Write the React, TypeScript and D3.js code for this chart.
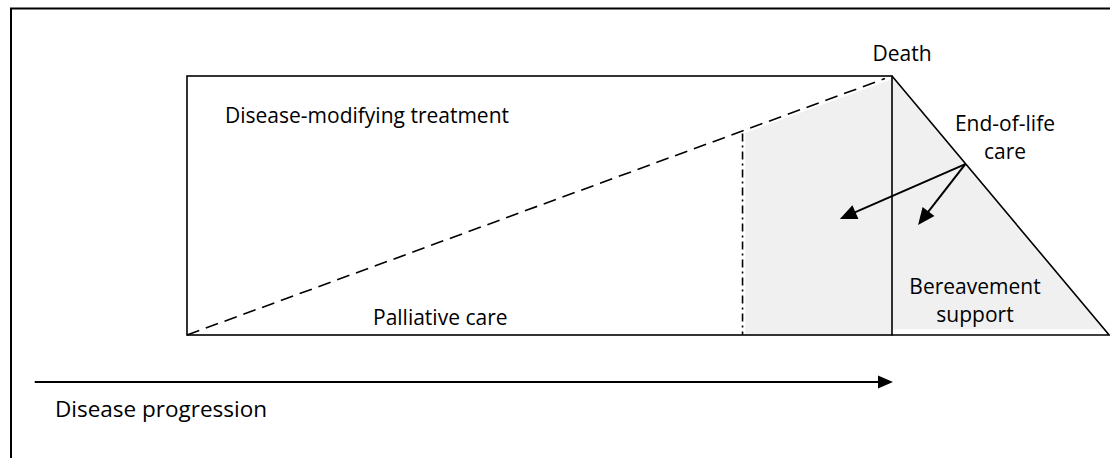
import React from "react";
import * as d3 from "d3";

// Conceptual timeline (0 = diagnosis, 100 = death)
const phases = ["Disease-modifying treatment", "Palliative care", "End-of-life care", "Bereavement support"];
const timeline = { progressionStart: -21.6, diagnosis: 0, endOfLifeStart: 78.8, death: 100, bereavementEnd: 130.8 };
const treatmentShare = [0, 0.99]; // palliative share rises from 0 to ~1 at death
const arrowStart = [110.4, 0.66];
const arrowTargets = [
  [92.6, 0.448],
  [103.7, 0.425],
];
const progressionLabel = "Disease progression";
const deathLabel = "Death";

const W = 1110;
const H = 458;

export default function App() {
  const x = d3.scaleLinear().domain([0, 100]).range([187, 892]);
  const y = d3.scaleLinear().domain([0, 1]).range([335, 76]);
  const line = d3.line<[number, number]>().x((d) => x(d[0])).y((d) => y(d[1]));

  const t0 = timeline.diagnosis;
  const tD = timeline.death;
  const tE = timeline.endOfLifeStart;
  const tB = timeline.bereavementEnd;
  const dashY = (t: number) => treatmentShare[0] + ((treatmentShare[1] - treatmentShare[0]) * (t - t0)) / (99 - t0);

  const shade: [number, number][] = [
    [tE + 0.4, dashY(tE + 0.4) - 0.012],
    [tD - 0.3, 0.985],
    [tD, 1],
    [tB - 0.8, 0.022],
    [tD, 0.022],
    [tD, 0.004],
    [tE + 0.4, 0.004],
  ];

  const font = "'Open Sans', 'Noto Sans', sans-serif";

  const arrowHead = (x1: number, y1: number, x2: number, y2: number, len: number, half: number) => {
    const ang = Math.atan2(y2 - y1, x2 - x1);
    const bx = x2 - len * Math.cos(ang);
    const by = y2 - len * Math.sin(ang);
    const px = -Math.sin(ang) * half;
    const py = Math.cos(ang) * half;
    return `M${x2},${y2}L${bx + px},${by + py}L${bx - px},${by - py}Z`;
  };

  const sx = x(arrowStart[0]);
  const sy = y(arrowStart[1]);

  const px0 = x(timeline.progressionStart);
  const px1 = x(tD) + 1;
  const py = 382;

  return (
    <svg width={W} height={H} style={{ position: "absolute", left: 0, top: 0, background: "#fff" }} fontFamily={font}>
      {/* outer frame */}
      <path d={`M11,${H}V8.5H${W}`} fill="none" stroke="#000" strokeWidth={2} />

      {/* shaded end-of-life / bereavement region */}
      <path d={line(shade) + "Z"} fill="#f0f0f0" stroke="none" />

      {/* main rectangle */}
      <rect x={x(t0)} y={y(1)} width={x(tD) - x(t0)} height={y(0) - y(1)} fill="none" stroke="#000" strokeWidth={1.6} />
      {/* bereavement triangle */}
      <path d={line([[tD, 1], [tB, 0], [tD, 0]])} fill="none" stroke="#000" strokeWidth={1.6} />

      {/* dashed boundary */}
      <path d={line([[t0, treatmentShare[0]], [99, treatmentShare[1]]])!} fill="none" stroke="#000" strokeWidth={1.6} strokeDasharray="13,7" />

      {/* dash-dot end-of-life start */}
      <path d={line([[tE, dashY(tE) - 0.01], [tE, 0]])!} fill="none" stroke="#000" strokeWidth={1.6} strokeDasharray="8,4,2,4" />

      {/* arrows */}
      {arrowTargets.map((a, i) => {
        const ex = x(a[0]);
        const ey = y(a[1]);
        const ang = Math.atan2(ey - sy, ex - sx);
        const lx = ex - 12 * Math.cos(ang);
        const ly = ey - 12 * Math.sin(ang);
        return (
          <g key={i}>
            <line x1={sx} y1={sy} x2={lx} y2={ly} stroke="#000" strokeWidth={2} />
            <path d={arrowHead(sx, sy, ex, ey, 17, 7.5)} fill="#000" />
          </g>
        );
      })}

      {/* progression arrow */}
      <line x1={px0} y1={py} x2={px1 - 12} y2={py} stroke="#000" strokeWidth={2} />
      <path d={arrowHead(px0, py, px1, py, 15, 6.5)} fill="#000" />

      {/* labels */}
      <g fill="#000" fontSize={21}>
        <text x={x(tD) + 10} y={61} textAnchor="middle">{deathLabel}</text>
        <text x={225} y={123}>{phases[0]}</text>
        <text x={373} y={325}>{phases[1]}</text>
        <text x={1005} y={131} textAnchor="middle">End-of-life</text>
        <text x={1005} y={159} textAnchor="middle">care</text>
        <text x={975} y={294} textAnchor="middle">Bereavement</text>
        <text x={975} y={322} textAnchor="middle">support</text>
        <text x={55} y={417} fontSize={22.5}>{progressionLabel}</text>
      </g>
    </svg>
  );
}
